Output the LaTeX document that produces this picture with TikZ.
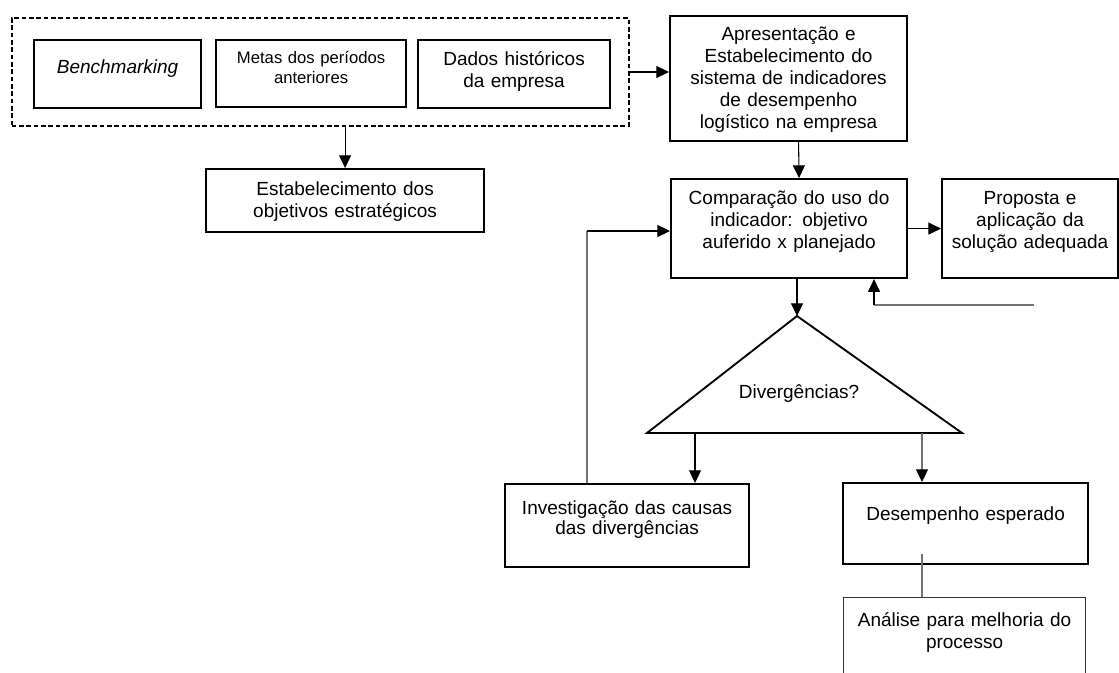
\documentclass[tikz,border=0pt]{standalone}
\usepackage{fontspec}
\setmainfont{Liberation Sans}
\usetikzlibrary{arrows.meta}

\newdimen\pxu
\pxu=0.75pt

\tikzset{
    box/.style n args={3}{draw, line width=1.6pt, inner sep=0pt, anchor=north west, align=center,
        text width=#1\pxu, text height=#2\pxu, text depth=#3\pxu,
        font=\fontsize{14.25pt}{16.5pt}\selectfont},
    dashbox/.style={draw, line width=1.5pt, dash pattern=on 3.5pt off 2pt, inner sep=0pt, anchor=north west},
    link/.style={line width=0.8pt, -{Triangle[length=9.5pt,width=9pt,color=black]}},
    greylink/.style={link, draw=black!55},
    greyline/.style={line width=0.8pt, draw=black!55}
}

\begin{document}
\begin{tikzpicture}[x=0.75pt, y=-0.75pt]
    \useasboundingbox (0,0) rectangle (1119,673);

    \node[dashbox, minimum width=617\pxu, minimum height=108\pxu] (dash) at (10.5,17) {};
    \node[box={167}{33}{35}] (bench) at (33,39) {\textit{Benchmarking}};
    \node[box={190}{23}{44}, font=\fontsize{12.5pt}{15pt}\selectfont] (metas) at (215,39)
        {Metas dos períodos\\anteriores};
    \node[box={192}{25}{43}] (dados) at (417,39) {Dados históricos\\da empresa};

    \node[box={237}{24}{101}] (apres) at (669,15)
        {Apresentação e\\Estabelecimento do\\sistema de indicadores\\de desempenho\\logístico na empresa};
    \node[box={278}{26}{37}] (estab) at (205,168) {Estabelecimento dos\\objetivos estratégicos};
    \node[box={236}{25}{74}] (comp) at (670,178)
        {Comparação do uso do\\indicador: objetivo\\auferido x planejado};
    \node[box={176}{25}{74}] (prop) at (941,178) {Proposta e\\aplicação da\\solução adequada};

    \coordinate (tritop) at (797,316);
    \coordinate (trileft) at (647,433);
    \coordinate (triright) at (962,433);
    \draw[line width=1.4pt, line join=miter] (tritop) -- (triright) -- (trileft) -- cycle;
    \node[font=\fontsize{14.25pt}{16.5pt}\selectfont] (div) at (799,394) {Divergências?};
    \coordinate (baseL) at (695,433);
    \coordinate (baseR) at (922,433);

    \node[box={244}{30}{53}, font=\fontsize{14.25pt}{15pt}\selectfont] (inv) at (504,483)
        {Investigação das causas\\das divergências};
    \node[box={245}{37}{44}] (desemp) at (842,482) {Desempenho esperado};
    \node[box={242}{29}{100}, line width=0.8pt, draw=black!80] (analise) at (843,597)
        {Análise para melhoria do\\processo};

    \coordinate (loop) at (587,231);
    \coordinate (fbend) at (1034,305);
    \coordinate (fbcorner) at (874,305);

    \draw[link] (dash.east) -- (dash.east -| apres.west);
    \draw[link] (estab.north |- dash.south) -- (estab.north);
    \draw[link] ([xshift=7.5pt]apres.south) -- ([xshift=7.5pt]comp.north);
    \draw[link] (comp.east) -- (prop.west);
    \draw[link] (tritop |- comp.south) -- (tritop);
    \draw[greyline] (fbend) -- (fbcorner);
    \draw[link] (fbcorner) -- (fbcorner |- comp.south);
    \draw[link] (baseL) -- (baseL |- inv.north);
    \draw[greylink] (baseR) -- (baseR |- desemp.north);
    \draw[greyline] (inv.north -| loop) -- (loop);
    \draw[link] (loop) -- (comp.west |- loop);
    \draw[greyline] ([yshift=8pt]desemp.south -| baseR) -- (analise.north -| baseR);
\end{tikzpicture}
\end{document}
